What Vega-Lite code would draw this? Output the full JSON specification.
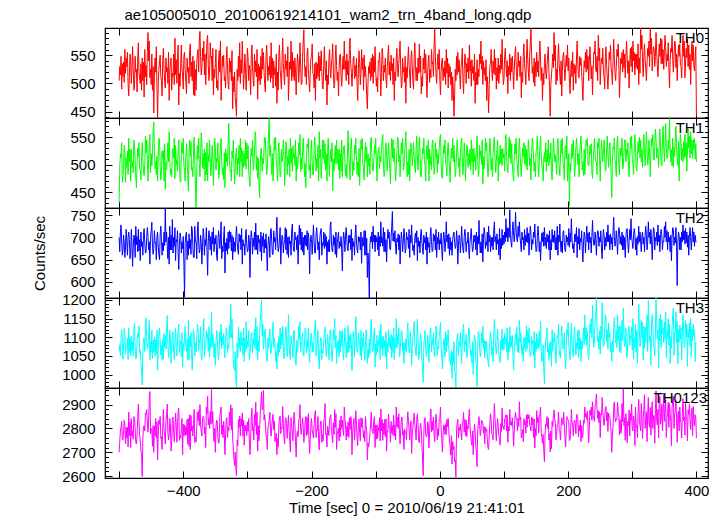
{
"$schema":"https://vega.github.io/schema/vega-lite/v6.json",
"padding":{"left":31,"top":7,"right":5,"bottom":0},
"title":{"text":"ae105005010_20100619214101_wam2_trn_4band_long.qdp","anchor":"start","dx":93,"fontSize":15,"fontWeight":"normal","font":"Liberation Sans","color":"#000","offset":2},
"config":{"font":"Liberation Sans","view":{"stroke":"#000","strokeWidth":1.2},"axis":{"labelFont":"Liberation Sans","labelFontSize":15,"labelColor":"#000","titleFont":"Liberation Sans","titleFontSize":15,"titleFontWeight":"normal","titleColor":"#000","tickColor":"#000","tickWidth":1,"domain":false,"grid":false,"labelFlush":false,"labelOverlap":false,"minExtent":0}},
"bounds":"flush",
"spacing":0,
"datasets":{"lc":[
{"t":-500,"a":505,"b":430,"c":700,"d":1062,"e":2700},
{"t":-499,"a":530,"b":495,"c":668,"d":1080,"e":2745},
{"t":-498,"a":515,"b":520,"c":712,"d":1050,"e":2790},
{"t":-497,"a":548,"b":512,"c":728,"d":1095,"e":2805},
{"t":-496,"a":490,"b":540,"c":690,"d":1120,"e":2830},
{"t":-495,"a":535,"b":468,"c":660,"d":1085,"e":2752},
{"t":-494,"a":512,"b":478,"c":671,"d":1041,"e":2752},
{"t":-493,"a":538,"b":500,"c":705,"d":1075,"e":2790},
{"t":-492,"a":502,"b":535,"c":685,"d":1125,"e":2835},
{"t":-491,"a":560,"b":520,"c":655,"d":1110,"e":2810},
{"t":-490,"a":518,"b":468,"c":680,"d":1055,"e":2735},
{"t":-489,"a":545,"b":512,"c":718,"d":1070,"e":2805},
{"t":-488,"a":530,"b":495,"c":690,"d":1072,"e":2760},
{"t":-487,"a":555,"b":525,"c":660,"d":1098,"e":2805},
{"t":-486,"a":498,"b":482,"c":700,"d":1040,"e":2722},
{"t":-485,"a":478,"b":548,"c":712,"d":1125,"e":2868},
{"t":-484,"a":512,"b":505,"c":695,"d":1060,"e":2770},
{"t":-483,"a":552,"b":528,"c":652,"d":1098,"e":2828},
{"t":-482,"a":540,"b":470,"c":662,"d":1050,"e":2720},
{"t":-481,"a":500,"b":528,"c":718,"d":1102,"e":2842},
{"t":-480,"a":525,"b":495,"c":688,"d":1065,"e":2768},
{"t":-479,"a":565,"b":505,"c":635,"d":1088,"e":2790},
{"t":-478,"a":528,"b":485,"c":678,"d":1050,"e":2755},
{"t":-477,"a":488,"b":545,"c":705,"d":1118,"e":2850},
{"t":-476,"a":495,"b":532,"c":700,"d":1138,"e":2845},
{"t":-475,"a":548,"b":510,"c":655,"d":1075,"e":2800},
{"t":-474,"a":520,"b":478,"c":725,"d":1042,"e":2740},
{"t":-473,"a":525,"b":458,"c":684,"d":1045,"e":2735},
{"t":-472,"a":485,"b":500,"c":702,"d":1092,"e":2768},
{"t":-471,"a":545,"b":530,"c":668,"d":1110,"e":2842},
{"t":-470,"a":572,"b":515,"c":718,"d":1100,"e":2902},
{"t":-469,"a":520,"b":540,"c":670,"d":1130,"e":2825},
{"t":-468,"a":508,"b":492,"c":695,"d":1058,"e":2772},
{"t":-467,"a":500,"b":490,"c":648,"d":1065,"e":2748},
{"t":-466,"a":535,"b":472,"c":712,"d":1035,"e":2705},
{"t":-465,"a":488,"b":515,"c":680,"d":1012,"e":2690},
{"t":-464,"a":545,"b":540,"c":690,"d":972,"e":2598},
{"t":-463,"a":505,"b":510,"c":660,"d":1070,"e":2760},
{"t":-462,"a":538,"b":488,"c":705,"d":1095,"e":2808},
{"t":-461,"a":476,"b":480,"c":720,"d":1098,"e":2812},
{"t":-460,"a":560,"b":498,"c":688,"d":1062,"e":2790},
{"t":-459,"a":512,"b":552,"c":665,"d":1132,"e":2865},
{"t":-458,"a":532,"b":522,"c":666,"d":1152,"e":2860},
{"t":-457,"a":498,"b":545,"c":700,"d":1090,"e":2880},
{"t":-456,"a":555,"b":505,"c":722,"d":1068,"e":2825},
{"t":-455,"a":590,"b":470,"c":702,"d":1075,"e":2785},
{"t":-454,"a":540,"b":512,"c":672,"d":1108,"e":2832},
{"t":-453,"a":575,"b":535,"c":690,"d":1145,"e":2918},
{"t":-452,"a":510,"b":555,"c":640,"d":1040,"e":2955},
{"t":-451,"a":525,"b":485,"c":698,"d":1085,"e":2778},
{"t":-450,"a":498,"b":520,"c":715,"d":1060,"e":2800},
{"t":-449,"a":552,"b":498,"c":734,"d":1118,"e":2790},
{"t":-448,"a":488,"b":520,"c":680,"d":1042,"e":2725},
{"t":-447,"a":530,"b":560,"c":662,"d":1092,"e":2812},
{"t":-446,"a":448,"b":578,"c":675,"d":1060,"e":2700},
{"t":-445,"a":512,"b":530,"c":715,"d":1100,"e":2810},
{"t":-444,"a":545,"b":492,"c":688,"d":1048,"e":2770},
{"t":-443,"a":520,"b":505,"c":690,"d":1093,"e":2842},
{"t":-442,"a":565,"b":482,"c":650,"d":1055,"e":2760},
{"t":-441,"a":492,"b":515,"c":702,"d":1120,"e":2828},
{"t":-440,"a":440,"b":470,"c":712,"d":1012,"e":2668},
{"t":-439,"a":500,"b":515,"c":678,"d":1072,"e":2775},
{"t":-438,"a":525,"b":548,"c":660,"d":1105,"e":2835},
{"t":-437,"a":538,"b":545,"c":650,"d":1125,"e":2818},
{"t":-436,"a":550,"b":498,"c":705,"d":1090,"e":2850},
{"t":-435,"a":512,"b":472,"c":725,"d":1052,"e":2758},
{"t":-434,"a":505,"b":488,"c":698,"d":1078,"e":2765},
{"t":-433,"a":478,"b":525,"c":660,"d":1038,"e":2712},
{"t":-432,"a":540,"b":510,"c":688,"d":1095,"e":2805},
{"t":-431,"a":562,"b":526,"c":670,"d":1042,"e":2880},
{"t":-430,"a":525,"b":470,"c":712,"d":1110,"e":2795},
{"t":-429,"a":502,"b":538,"c":682,"d":1072,"e":2770},
{"t":-428,"a":492,"b":455,"c":765,"d":1105,"e":2735},
{"t":-427,"a":545,"b":505,"c":690,"d":1068,"e":2828},
{"t":-426,"a":520,"b":490,"c":712,"d":1125,"e":2858},
{"t":-425,"a":528,"b":512,"c":682,"d":1158,"e":2902},
{"t":-424,"a":500,"b":540,"c":652,"d":1080,"e":2785},
{"t":-423,"a":555,"b":505,"c":700,"d":1045,"e":2752},
{"t":-422,"a":470,"b":560,"c":640,"d":1068,"e":2772},
{"t":-421,"a":522,"b":505,"c":725,"d":1120,"e":2842},
{"t":-420,"a":535,"b":482,"c":672,"d":1090,"e":2810},
{"t":-419,"a":545,"b":492,"c":705,"d":1030,"e":2705},
{"t":-418,"a":488,"b":478,"c":672,"d":1078,"e":2750},
{"t":-417,"a":518,"b":525,"c":740,"d":1110,"e":2840},
{"t":-416,"a":512,"b":530,"c":665,"d":1115,"e":2848},
{"t":-415,"a":552,"b":512,"c":700,"d":1062,"e":2790},
{"t":-414,"a":498,"b":548,"c":680,"d":1040,"e":2745},
{"t":-413,"a":580,"b":475,"c":722,"d":1082,"e":2798},
{"t":-412,"a":515,"b":535,"c":648,"d":1125,"e":2865},
{"t":-411,"a":542,"b":500,"c":695,"d":1070,"e":2812},
{"t":-410,"a":500,"b":508,"c":690,"d":1050,"e":2742},
{"t":-409,"a":538,"b":488,"c":715,"d":1092,"e":2810},
{"t":-408,"a":568,"b":528,"c":665,"d":1118,"e":2872},
{"t":-407,"a":462,"b":545,"c":628,"d":1135,"e":2885},
{"t":-406,"a":518,"b":500,"c":682,"d":1060,"e":2750},
{"t":-405,"a":495,"b":472,"c":710,"d":1085,"e":2768},
{"t":-404,"a":535,"b":468,"c":700,"d":1090,"e":2760},
{"t":-403,"a":568,"b":522,"c":665,"d":1048,"e":2795},
{"t":-402,"a":525,"b":540,"c":690,"d":1112,"e":2842},
{"t":-401,"a":515,"b":520,"c":675,"d":1020,"e":2690},
{"t":-400,"a":490,"b":548,"c":702,"d":1085,"e":2818},
{"t":-399,"a":548,"b":498,"c":640,"d":1065,"e":2770},
{"t":-398,"a":555,"b":490,"c":566,"d":1100,"e":2815},
{"t":-397,"a":525,"b":470,"c":688,"d":1130,"e":2770},
{"t":-396,"a":502,"b":515,"c":705,"d":1078,"e":2808},
{"t":-395,"a":482,"b":538,"c":712,"d":1062,"e":2775},
{"t":-394,"a":545,"b":505,"c":650,"d":1095,"e":2838},
{"t":-393,"a":520,"b":480,"c":692,"d":1040,"e":2735},
{"t":-392,"a":528,"b":452,"c":660,"d":1145,"e":2842},
{"t":-391,"a":500,"b":525,"c":708,"d":1040,"e":2725},
{"t":-390,"a":560,"b":545,"c":675,"d":1102,"e":2858},
{"t":-389,"a":570,"b":515,"c":695,"d":1074,"e":2712},
{"t":-388,"a":512,"b":542,"c":662,"d":1112,"e":2855},
{"t":-387,"a":538,"b":490,"c":725,"d":1055,"e":2790},
{"t":-386,"a":505,"b":495,"c":718,"d":1012,"e":2810},
{"t":-385,"a":548,"b":478,"c":680,"d":1078,"e":2768},
{"t":-384,"a":480,"b":528,"c":655,"d":1120,"e":2822},
{"t":-383,"a":540,"b":550,"c":655,"d":1108,"e":2880},
{"t":-382,"a":478,"b":505,"c":725,"d":1050,"e":2740},
{"t":-381,"a":525,"b":462,"c":690,"d":1085,"e":2765},
{"t":-380,"a":488,"b":421,"c":690,"d":1060,"e":2745},
{"t":-379,"a":535,"b":490,"c":652,"d":1098,"e":2798},
{"t":-378,"a":552,"b":535,"c":712,"d":1135,"e":2868},
{"t":-377,"a":560,"b":510,"c":735,"d":1122,"e":2832},
{"t":-376,"a":520,"b":548,"c":690,"d":1065,"e":2875},
{"t":-375,"a":575,"b":502,"c":665,"d":1092,"e":2812},
{"t":-374,"a":592,"b":478,"c":672,"d":1085,"e":2900},
{"t":-373,"a":548,"b":515,"c":705,"d":1128,"e":2815},
{"t":-372,"a":515,"b":558,"c":688,"d":1048,"e":2790},
{"t":-371,"a":525,"b":540,"c":640,"d":1038,"e":2768},
{"t":-370,"a":562,"b":495,"c":678,"d":1085,"e":2842},
{"t":-369,"a":540,"b":520,"c":720,"d":1112,"e":2850},
{"t":-368,"a":575,"b":492,"c":708,"d":1150,"e":2850},
{"t":-367,"a":515,"b":528,"c":660,"d":1048,"e":2778},
{"t":-366,"a":552,"b":470,"c":695,"d":1075,"e":2805},
{"t":-365,"a":498,"b":522,"c":682,"d":1072,"e":2720},
{"t":-364,"a":540,"b":482,"c":722,"d":1118,"e":2890},
{"t":-363,"a":578,"b":540,"c":670,"d":1095,"e":2862},
{"t":-362,"a":585,"b":470,"c":615,"d":1110,"e":2935},
{"t":-361,"a":532,"b":518,"c":690,"d":1062,"e":2815},
{"t":-360,"a":505,"b":505,"c":715,"d":1128,"e":2842},
{"t":-359,"a":520,"b":545,"c":700,"d":1048,"e":2800},
{"t":-358,"a":572,"b":505,"c":672,"d":1100,"e":2872},
{"t":-357,"a":545,"b":480,"c":702,"d":1070,"e":2818},
{"t":-356,"a":548,"b":500,"c":660,"d":1168,"e":2965},
{"t":-355,"a":505,"b":535,"c":712,"d":1075,"e":2822},
{"t":-354,"a":562,"b":518,"c":685,"d":1110,"e":2870},
{"t":-353,"a":480,"b":462,"c":722,"d":1090,"e":2780},
{"t":-352,"a":525,"b":512,"c":668,"d":1045,"e":2745},
{"t":-351,"a":510,"b":548,"c":698,"d":1082,"e":2800},
{"t":-350,"a":535,"b":532,"c":685,"d":1025,"e":2700},
{"t":-349,"a":560,"b":490,"c":705,"d":1090,"e":2805},
{"t":-348,"a":492,"b":512,"c":660,"d":1118,"e":2835},
{"t":-347,"a":505,"b":505,"c":648,"d":1102,"e":2828},
{"t":-346,"a":488,"b":540,"c":690,"d":1060,"e":2762},
{"t":-345,"a":538,"b":475,"c":715,"d":1040,"e":2738},
{"t":-344,"a":558,"b":480,"c":700,"d":1064,"e":2745},
{"t":-343,"a":520,"b":512,"c":675,"d":1115,"e":2850},
{"t":-342,"a":575,"b":535,"c":698,"d":1088,"e":2868},
{"t":-341,"a":470,"b":548,"c":735,"d":1135,"e":2890},
{"t":-340,"a":512,"b":505,"c":652,"d":1070,"e":2775},
{"t":-339,"a":548,"b":482,"c":680,"d":1102,"e":2815},
{"t":-338,"a":530,"b":495,"c":668,"d":1080,"e":2762},
{"t":-337,"a":550,"b":472,"c":702,"d":1110,"e":2830},
{"t":-336,"a":505,"b":522,"c":725,"d":1058,"e":2775},
{"t":-335,"a":512,"b":458,"c":620,"d":1045,"e":2690},
{"t":-334,"a":492,"b":528,"c":688,"d":1085,"e":2778},
{"t":-333,"a":540,"b":505,"c":670,"d":1125,"e":2842},
{"t":-332,"a":565,"b":520,"c":698,"d":1118,"e":2845},
{"t":-331,"a":528,"b":498,"c":662,"d":1058,"e":2762},
{"t":-330,"a":498,"b":545,"c":712,"d":1080,"e":2805},
{"t":-329,"a":490,"b":575,"c":675,"d":1070,"e":2790},
{"t":-328,"a":545,"b":515,"c":715,"d":1132,"e":2868},
{"t":-327,"a":520,"b":488,"c":690,"d":1098,"e":2812},
{"t":-326,"a":540,"b":490,"c":712,"d":1188,"e":2900},
{"t":-325,"a":505,"b":470,"c":670,"d":1098,"e":2795},
{"t":-324,"a":558,"b":525,"c":705,"d":1150,"e":2885},
{"t":-323,"a":455,"b":512,"c":650,"d":1092,"e":2760},
{"t":-322,"a":512,"b":545,"c":700,"d":1040,"e":2718},
{"t":-321,"a":485,"b":498,"c":668,"d":1020,"e":2672},
{"t":-320,"a":520,"b":465,"c":690,"d":1010,"e":2645},
{"t":-319,"a":475,"b":498,"c":668,"d":1062,"e":2700},
{"t":-318,"a":462,"b":520,"c":702,"d":985,"e":2632},
{"t":-317,"a":442,"b":530,"c":725,"d":966,"e":2602},
{"t":-316,"a":525,"b":482,"c":690,"d":1085,"e":2752},
{"t":-315,"a":505,"b":512,"c":672,"d":1045,"e":2728},
{"t":-314,"a":548,"b":502,"c":662,"d":1128,"e":2838},
{"t":-313,"a":512,"b":535,"c":708,"d":1072,"e":2805},
{"t":-312,"a":572,"b":478,"c":690,"d":1100,"e":2852},
{"t":-311,"a":500,"b":548,"c":705,"d":1060,"e":2770},
{"t":-310,"a":542,"b":505,"c":672,"d":1115,"e":2842},
{"t":-309,"a":518,"b":530,"c":720,"d":1078,"e":2810},
{"t":-308,"a":575,"b":478,"c":640,"d":1098,"e":2865},
{"t":-307,"a":530,"b":525,"c":695,"d":1052,"e":2768},
{"t":-306,"a":490,"b":495,"c":682,"d":1125,"e":2835},
{"t":-305,"a":515,"b":520,"c":685,"d":1035,"e":2730},
{"t":-304,"a":552,"b":498,"c":660,"d":1098,"e":2815},
{"t":-303,"a":528,"b":545,"c":705,"d":1062,"e":2790},
{"t":-302,"a":488,"b":492,"c":718,"d":1142,"e":2812},
{"t":-301,"a":520,"b":540,"c":682,"d":1068,"e":2770},
{"t":-300,"a":562,"b":510,"c":668,"d":1090,"e":2828},
{"t":-299,"a":545,"b":535,"c":672,"d":1075,"e":2788},
{"t":-298,"a":505,"b":488,"c":705,"d":1118,"e":2842},
{"t":-297,"a":532,"b":472,"c":690,"d":1040,"e":2745},
{"t":-296,"a":525,"b":460,"c":610,"d":1050,"e":2690},
{"t":-295,"a":480,"b":512,"c":692,"d":1080,"e":2752},
{"t":-294,"a":545,"b":530,"c":715,"d":1112,"e":2845},
{"t":-293,"a":568,"b":515,"c":700,"d":1112,"e":2885},
{"t":-292,"a":530,"b":545,"c":662,"d":1058,"e":2790},
{"t":-291,"a":505,"b":490,"c":698,"d":1095,"e":2808},
{"t":-290,"a":495,"b":498,"c":680,"d":1080,"e":2752},
{"t":-289,"a":552,"b":520,"c":712,"d":1122,"e":2860},
{"t":-288,"a":520,"b":560,"c":672,"d":1070,"e":2812},
{"t":-287,"a":540,"b":552,"c":732,"d":1152,"e":2910},
{"t":-286,"a":512,"b":490,"c":672,"d":1065,"e":2775},
{"t":-285,"a":560,"b":515,"c":705,"d":1128,"e":2868},
{"t":-284,"a":472,"b":475,"c":662,"d":1040,"e":2705},
{"t":-283,"a":535,"b":512,"c":705,"d":1092,"e":2812},
{"t":-282,"a":505,"b":465,"c":688,"d":1060,"e":2748},
{"t":-281,"a":530,"b":440,"c":695,"d":1104,"e":2795},
{"t":-280,"a":498,"b":505,"c":668,"d":1140,"e":2862},
{"t":-279,"a":548,"b":528,"c":712,"d":1165,"e":2902},
{"t":-278,"a":508,"b":530,"c":648,"d":1200,"e":2955},
{"t":-277,"a":562,"b":488,"c":702,"d":1102,"e":2878},
{"t":-276,"a":525,"b":512,"c":680,"d":1135,"e":2880},
{"t":-275,"a":555,"b":502,"c":710,"d":1068,"e":2960},
{"t":-274,"a":520,"b":532,"c":665,"d":1090,"e":2835},
{"t":-273,"a":498,"b":550,"c":695,"d":1118,"e":2858},
{"t":-272,"a":485,"b":548,"c":676,"d":1122,"e":2820},
{"t":-271,"a":545,"b":505,"c":708,"d":1062,"e":2775},
{"t":-270,"a":568,"b":482,"c":670,"d":1045,"e":2762},
{"t":-269,"a":538,"b":492,"c":625,"d":1035,"e":2712},
{"t":-268,"a":505,"b":528,"c":682,"d":1098,"e":2802},
{"t":-267,"a":530,"b":560,"c":702,"d":1072,"e":2815},
{"t":-266,"a":515,"b":584,"c":690,"d":1090,"e":2835},
{"t":-265,"a":548,"b":515,"c":655,"d":1122,"e":2868},
{"t":-264,"a":502,"b":535,"c":718,"d":1055,"e":2792},
{"t":-263,"a":572,"b":508,"c":720,"d":1058,"e":2768},
{"t":-262,"a":510,"b":482,"c":688,"d":1088,"e":2810},
{"t":-261,"a":545,"b":520,"c":662,"d":1110,"e":2840},
{"t":-260,"a":492,"b":470,"c":662,"d":1140,"e":2860},
{"t":-259,"a":540,"b":515,"c":715,"d":1072,"e":2795},
{"t":-258,"a":515,"b":548,"c":690,"d":1098,"e":2832},
{"t":-257,"a":528,"b":525,"c":700,"d":1078,"e":2745},
{"t":-256,"a":495,"b":550,"c":672,"d":1035,"e":2770},
{"t":-255,"a":552,"b":500,"c":712,"d":1062,"e":2780},
{"t":-254,"a":465,"b":495,"c":745,"d":1015,"e":2690},
{"t":-253,"a":520,"b":470,"c":690,"d":1085,"e":2758},
{"t":-252,"a":488,"b":522,"c":668,"d":1050,"e":2722},
{"t":-251,"a":548,"b":540,"c":675,"d":1102,"e":2812},
{"t":-250,"a":568,"b":508,"c":700,"d":1060,"e":2845},
{"t":-249,"a":525,"b":478,"c":722,"d":1125,"e":2852},
{"t":-248,"a":510,"b":478,"c":640,"d":1068,"e":2778},
{"t":-247,"a":490,"b":528,"c":685,"d":1112,"e":2805},
{"t":-246,"a":542,"b":505,"c":705,"d":1080,"e":2800},
{"t":-245,"a":580,"b":512,"c":702,"d":1130,"e":2892},
{"t":-244,"a":535,"b":545,"c":665,"d":1075,"e":2820},
{"t":-243,"a":512,"b":520,"c":688,"d":1042,"e":2765},
{"t":-242,"a":498,"b":462,"c":688,"d":1052,"e":2735},
{"t":-241,"a":552,"b":505,"c":722,"d":1100,"e":2838},
{"t":-240,"a":525,"b":542,"c":672,"d":1128,"e":2845},
{"t":-239,"a":540,"b":535,"c":718,"d":1095,"e":2820},
{"t":-238,"a":512,"b":482,"c":662,"d":1048,"e":2758},
{"t":-237,"a":565,"b":515,"c":700,"d":1075,"e":2812},
{"t":-236,"a":470,"b":500,"c":655,"d":1160,"e":2855},
{"t":-235,"a":508,"b":528,"c":702,"d":1088,"e":2792},
{"t":-234,"a":538,"b":478,"c":685,"d":1055,"e":2752},
{"t":-233,"a":525,"b":548,"c":692,"d":1040,"e":2702},
{"t":-232,"a":575,"b":502,"c":660,"d":1105,"e":2845},
{"t":-231,"a":505,"b":530,"c":715,"d":1082,"e":2808},
{"t":-230,"a":555,"b":488,"c":730,"d":1080,"e":2790},
{"t":-229,"a":512,"b":535,"c":690,"d":1045,"e":2748},
{"t":-228,"a":540,"b":512,"c":670,"d":1118,"e":2838},
{"t":-227,"a":505,"b":520,"c":668,"d":1118,"e":2868},
{"t":-226,"a":545,"b":498,"c":712,"d":1078,"e":2815},
{"t":-225,"a":520,"b":545,"c":695,"d":1030,"e":2745},
{"t":-224,"a":480,"b":470,"c":700,"d":1025,"e":2680},
{"t":-223,"a":522,"b":515,"c":672,"d":1092,"e":2772},
{"t":-222,"a":552,"b":492,"c":705,"d":1060,"e":2790},
{"t":-221,"a":538,"b":505,"c":640,"d":1075,"e":2765},
{"t":-220,"a":502,"b":540,"c":695,"d":1130,"e":2835},
{"t":-219,"a":528,"b":518,"c":728,"d":1095,"e":2842},
{"t":-218,"a":572,"b":555,"c":684,"d":1142,"e":2900},
{"t":-217,"a":528,"b":488,"c":720,"d":1060,"e":2792},
{"t":-216,"a":498,"b":512,"c":672,"d":1085,"e":2775},
{"t":-215,"a":500,"b":492,"c":712,"d":1088,"e":2808},
{"t":-214,"a":548,"b":525,"c":668,"d":1112,"e":2845},
{"t":-213,"a":575,"b":548,"c":700,"d":1052,"e":2805},
{"t":-212,"a":595,"b":518,"c":660,"d":1050,"e":2742},
{"t":-211,"a":535,"b":478,"c":705,"d":1085,"e":2778},
{"t":-210,"a":512,"b":502,"c":682,"d":1125,"e":2830},
{"t":-209,"a":530,"b":458,"c":705,"d":1120,"e":2850},
{"t":-208,"a":498,"b":512,"c":680,"d":1058,"e":2770},
{"t":-207,"a":552,"b":538,"c":715,"d":1092,"e":2848},
{"t":-206,"a":562,"b":530,"c":672,"d":1070,"e":2775},
{"t":-205,"a":525,"b":548,"c":710,"d":1125,"e":2862},
{"t":-204,"a":505,"b":490,"c":690,"d":1060,"e":2752},
{"t":-203,"a":485,"b":500,"c":618,"d":1032,"e":2695},
{"t":-202,"a":520,"b":475,"c":688,"d":1072,"e":2752},
{"t":-201,"a":545,"b":522,"c":705,"d":1110,"e":2822},
{"t":-200,"a":548,"b":545,"c":695,"d":1110,"e":2842},
{"t":-199,"a":570,"b":505,"c":662,"d":1060,"e":2790},
{"t":-198,"a":518,"b":482,"c":698,"d":1085,"e":2778},
{"t":-197,"a":515,"b":482,"c":728,"d":1062,"e":2760},
{"t":-196,"a":492,"b":528,"c":690,"d":1105,"e":2820},
{"t":-195,"a":535,"b":550,"c":665,"d":1128,"e":2858},
{"t":-194,"a":470,"b":520,"c":665,"d":1145,"e":2875},
{"t":-193,"a":538,"b":488,"c":705,"d":1050,"e":2762},
{"t":-192,"a":508,"b":512,"c":722,"d":1075,"e":2795},
{"t":-191,"a":535,"b":495,"c":700,"d":1082,"e":2792},
{"t":-190,"a":512,"b":535,"c":672,"d":1118,"e":2850},
{"t":-189,"a":555,"b":470,"c":690,"d":1042,"e":2752},
{"t":-188,"a":505,"b":560,"c":650,"d":1015,"e":2710},
{"t":-187,"a":548,"b":512,"c":700,"d":1070,"e":2788},
{"t":-186,"a":522,"b":528,"c":715,"d":1098,"e":2830},
{"t":-185,"a":558,"b":475,"c":720,"d":1098,"e":2830},
{"t":-184,"a":520,"b":500,"c":660,"d":1040,"e":2742},
{"t":-183,"a":492,"b":545,"c":688,"d":1065,"e":2775},
{"t":-182,"a":490,"b":512,"c":682,"d":1058,"e":2748},
{"t":-181,"a":532,"b":545,"c":712,"d":1092,"e":2830},
{"t":-180,"a":565,"b":502,"c":675,"d":1112,"e":2842},
{"t":-179,"a":528,"b":538,"c":708,"d":1128,"e":2905},
{"t":-178,"a":505,"b":490,"c":680,"d":1070,"e":2775},
{"t":-177,"a":540,"b":520,"c":702,"d":1048,"e":2780},
{"t":-176,"a":462,"b":470,"c":640,"d":1075,"e":2722},
{"t":-175,"a":515,"b":520,"c":690,"d":1108,"e":2810},
{"t":-174,"a":498,"b":548,"c":668,"d":1085,"e":2795},
{"t":-173,"a":542,"b":505,"c":695,"d":1040,"e":2770},
{"t":-172,"a":560,"b":478,"c":668,"d":1085,"e":2835},
{"t":-171,"a":525,"b":512,"c":725,"d":1120,"e":2850},
{"t":-170,"a":510,"b":528,"c":735,"d":1105,"e":2858},
{"t":-169,"a":532,"b":505,"c":690,"d":1062,"e":2792},
{"t":-168,"a":548,"b":540,"c":670,"d":1035,"e":2768},
{"t":-167,"a":570,"b":452,"c":668,"d":1068,"e":2740},
{"t":-166,"a":518,"b":510,"c":705,"d":1120,"e":2822},
{"t":-165,"a":492,"b":488,"c":682,"d":1092,"e":2775},
{"t":-164,"a":498,"b":515,"c":700,"d":1150,"e":2880},
{"t":-163,"a":545,"b":535,"c":662,"d":1072,"e":2805},
{"t":-162,"a":568,"b":502,"c":712,"d":1105,"e":2862},
{"t":-161,"a":532,"b":545,"c":655,"d":1030,"e":2712},
{"t":-160,"a":505,"b":502,"c":688,"d":1088,"e":2775},
{"t":-159,"a":520,"b":528,"c":700,"d":1060,"e":2790},
{"t":-158,"a":478,"b":490,"c":712,"d":1092,"e":2802},
{"t":-157,"a":528,"b":528,"c":675,"d":1048,"e":2748},
{"t":-156,"a":550,"b":475,"c":690,"d":1118,"e":2835},
{"t":-155,"a":552,"b":520,"c":680,"d":1060,"e":2765},
{"t":-154,"a":512,"b":488,"c":702,"d":1115,"e":2852},
{"t":-153,"a":495,"b":545,"c":668,"d":1078,"e":2800},
{"t":-152,"a":520,"b":478,"c":625,"d":1118,"e":2835},
{"t":-151,"a":548,"b":515,"c":688,"d":1065,"e":2790},
{"t":-150,"a":525,"b":532,"c":712,"d":1040,"e":2770},
{"t":-149,"a":575,"b":535,"c":698,"d":1080,"e":2890},
{"t":-148,"a":525,"b":505,"c":668,"d":1125,"e":2845},
{"t":-147,"a":540,"b":480,"c":705,"d":1095,"e":2815},
{"t":-146,"a":505,"b":500,"c":722,"d":1045,"e":2752},
{"t":-145,"a":552,"b":475,"c":695,"d":1085,"e":2808},
{"t":-144,"a":515,"b":525,"c":672,"d":1058,"e":2768},
{"t":-143,"a":540,"b":562,"c":670,"d":1132,"e":2828},
{"t":-142,"a":498,"b":515,"c":705,"d":1060,"e":2762},
{"t":-141,"a":562,"b":498,"c":688,"d":1105,"e":2845},
{"t":-140,"a":580,"b":472,"c":705,"d":1070,"e":2795},
{"t":-139,"a":535,"b":525,"c":672,"d":1110,"e":2850},
{"t":-138,"a":520,"b":548,"c":718,"d":1080,"e":2838},
{"t":-137,"a":495,"b":515,"c":648,"d":1010,"e":2690},
{"t":-136,"a":520,"b":480,"c":698,"d":1072,"e":2778},
{"t":-135,"a":545,"b":505,"c":680,"d":1115,"e":2822},
{"t":-134,"a":548,"b":490,"c":690,"d":1098,"e":2842},
{"t":-133,"a":508,"b":535,"c":660,"d":1048,"e":2752},
{"t":-132,"a":532,"b":520,"c":705,"d":1090,"e":2808},
{"t":-131,"a":512,"b":548,"c":728,"d":1155,"e":2875},
{"t":-130,"a":545,"b":508,"c":690,"d":1090,"e":2815},
{"t":-129,"a":498,"b":482,"c":672,"d":1062,"e":2760},
{"t":-128,"a":470,"b":505,"c":665,"d":1060,"e":2728},
{"t":-127,"a":525,"b":478,"c":702,"d":1112,"e":2808},
{"t":-126,"a":558,"b":530,"c":690,"d":1085,"e":2840},
{"t":-125,"a":535,"b":462,"c":700,"d":1088,"e":2782},
{"t":-124,"a":498,"b":512,"c":672,"d":1050,"e":2748},
{"t":-123,"a":518,"b":545,"c":712,"d":1118,"e":2845},
{"t":-122,"a":560,"b":528,"c":642,"d":1040,"e":2805},
{"t":-121,"a":525,"b":548,"c":700,"d":1098,"e":2842},
{"t":-120,"a":545,"b":500,"c":680,"d":1072,"e":2800},
{"t":-119,"a":488,"b":495,"c":685,"d":1112,"e":2760},
{"t":-118,"a":550,"b":472,"c":715,"d":1065,"e":2790},
{"t":-117,"a":512,"b":518,"c":660,"d":1038,"e":2745},
{"t":-116,"a":530,"b":540,"c":715,"d":1072,"e":2850},
{"t":-115,"a":508,"b":505,"c":660,"d":1120,"e":2812},
{"t":-114,"a":478,"b":532,"c":698,"d":1090,"e":2790},
{"t":-113,"a":455,"b":478,"c":610,"d":1030,"e":2668},
{"t":-112,"a":502,"b":520,"c":665,"d":1068,"e":2740},
{"t":-111,"a":530,"b":498,"c":640,"d":1045,"e":2722},
{"t":-110,"a":518,"b":512,"c":564,"d":1095,"e":2745},
{"t":-109,"a":538,"b":482,"c":682,"d":1055,"e":2780},
{"t":-108,"a":505,"b":540,"c":702,"d":1108,"e":2815},
{"t":-107,"a":545,"b":550,"c":690,"d":1148,"e":2868},
{"t":-106,"a":512,"b":520,"c":712,"d":1085,"e":2802},
{"t":-105,"a":552,"b":490,"c":675,"d":1062,"e":2788},
{"t":-104,"a":500,"b":488,"c":725,"d":1062,"e":2778},
{"t":-103,"a":548,"b":505,"c":690,"d":1108,"e":2830},
{"t":-102,"a":520,"b":535,"c":705,"d":1125,"e":2850},
{"t":-101,"a":565,"b":520,"c":668,"d":1020,"e":2720},
{"t":-100,"a":522,"b":548,"c":705,"d":1082,"e":2815},
{"t":-99,"a":495,"b":505,"c":690,"d":1052,"e":2755},
{"t":-98,"a":510,"b":470,"c":700,"d":1105,"e":2815},
{"t":-97,"a":485,"b":512,"c":672,"d":1060,"e":2758},
{"t":-96,"a":540,"b":528,"c":712,"d":1092,"e":2805},
{"t":-95,"a":538,"b":532,"c":658,"d":1078,"e":2792},
{"t":-94,"a":555,"b":492,"c":702,"d":1118,"e":2845},
{"t":-93,"a":518,"b":515,"c":680,"d":1040,"e":2748},
{"t":-92,"a":478,"b":505,"c":735,"d":1135,"e":2882},
{"t":-91,"a":520,"b":528,"c":688,"d":1070,"e":2790},
{"t":-90,"a":562,"b":545,"c":700,"d":1102,"e":2838},
{"t":-89,"a":550,"b":555,"c":680,"d":1050,"e":2750},
{"t":-88,"a":505,"b":500,"c":722,"d":1102,"e":2822},
{"t":-87,"a":532,"b":478,"c":668,"d":1072,"e":2775},
{"t":-86,"a":520,"b":482,"c":712,"d":1092,"e":2838},
{"t":-85,"a":545,"b":525,"c":668,"d":1048,"e":2765},
{"t":-84,"a":508,"b":540,"c":695,"d":1115,"e":2840},
{"t":-83,"a":492,"b":515,"c":645,"d":1015,"e":2705},
{"t":-82,"a":528,"b":488,"c":692,"d":1085,"e":2790},
{"t":-81,"a":550,"b":512,"c":718,"d":1060,"e":2785},
{"t":-80,"a":568,"b":540,"c":698,"d":1120,"e":2860},
{"t":-79,"a":515,"b":512,"c":712,"d":1075,"e":2805},
{"t":-78,"a":538,"b":492,"c":675,"d":1098,"e":2808},
{"t":-77,"a":505,"b":465,"c":672,"d":1068,"e":2742},
{"t":-76,"a":550,"b":522,"c":700,"d":1108,"e":2830},
{"t":-75,"a":522,"b":548,"c":725,"d":1045,"e":2780},
{"t":-74,"a":535,"b":512,"c":758,"d":1102,"e":2812},
{"t":-73,"a":498,"b":545,"c":692,"d":1058,"e":2772},
{"t":-72,"a":545,"b":505,"c":710,"d":1125,"e":2855},
{"t":-71,"a":470,"b":530,"c":690,"d":1040,"e":2768},
{"t":-70,"a":520,"b":498,"c":715,"d":1098,"e":2815},
{"t":-69,"a":505,"b":470,"c":678,"d":1070,"e":2752},
{"t":-68,"a":545,"b":492,"c":662,"d":1150,"e":2890},
{"t":-67,"a":562,"b":525,"c":698,"d":1072,"e":2808},
{"t":-66,"a":528,"b":550,"c":690,"d":1105,"e":2848},
{"t":-65,"a":512,"b":548,"c":708,"d":1082,"e":2800},
{"t":-64,"a":535,"b":505,"c":672,"d":1125,"e":2862},
{"t":-63,"a":555,"b":518,"c":705,"d":1048,"e":2790},
{"t":-62,"a":575,"b":478,"c":640,"d":1058,"e":2735},
{"t":-61,"a":525,"b":512,"c":685,"d":1090,"e":2795},
{"t":-60,"a":492,"b":540,"c":712,"d":1118,"e":2835},
{"t":-59,"a":498,"b":520,"c":695,"d":1115,"e":2848},
{"t":-58,"a":545,"b":548,"c":668,"d":1062,"e":2772},
{"t":-57,"a":520,"b":490,"c":690,"d":1085,"e":2790},
{"t":-56,"a":528,"b":495,"c":720,"d":1030,"e":2712},
{"t":-55,"a":502,"b":520,"c":700,"d":1085,"e":2798},
{"t":-54,"a":548,"b":535,"c":665,"d":1065,"e":2785},
{"t":-53,"a":465,"b":560,"c":672,"d":1095,"e":2785},
{"t":-52,"a":528,"b":512,"c":712,"d":1060,"e":2752},
{"t":-51,"a":510,"b":478,"c":695,"d":1112,"e":2822},
{"t":-50,"a":540,"b":505,"c":700,"d":1138,"e":2870},
{"t":-49,"a":565,"b":482,"c":675,"d":1092,"e":2830},
{"t":-48,"a":532,"b":528,"c":718,"d":1058,"e":2800},
{"t":-47,"a":515,"b":470,"c":655,"d":1062,"e":2752},
{"t":-46,"a":492,"b":518,"c":705,"d":1115,"e":2810},
{"t":-45,"a":545,"b":540,"c":688,"d":1085,"e":2832},
{"t":-44,"a":558,"b":528,"c":728,"d":1025,"e":2695},
{"t":-43,"a":530,"b":498,"c":690,"d":1068,"e":2778},
{"t":-42,"a":505,"b":515,"c":670,"d":1102,"e":2805},
{"t":-41,"a":490,"b":540,"c":682,"d":1110,"e":2830},
{"t":-40,"a":548,"b":515,"c":660,"d":1142,"e":2865},
{"t":-39,"a":572,"b":492,"c":700,"d":1075,"e":2818},
{"t":-38,"a":532,"b":485,"c":710,"d":1075,"e":2790},
{"t":-37,"a":505,"b":530,"c":688,"d":1050,"e":2752},
{"t":-36,"a":528,"b":552,"c":715,"d":1092,"e":2840},
{"t":-35,"a":505,"b":512,"c":648,"d":1148,"e":2862},
{"t":-34,"a":545,"b":490,"c":700,"d":1095,"e":2818},
{"t":-33,"a":518,"b":520,"c":680,"d":1040,"e":2748},
{"t":-32,"a":570,"b":550,"c":692,"d":1050,"e":2740},
{"t":-31,"a":520,"b":525,"c":665,"d":1088,"e":2800},
{"t":-30,"a":548,"b":478,"c":705,"d":1110,"e":2822},
{"t":-29,"a":482,"b":478,"c":718,"d":1092,"e":2800},
{"t":-28,"a":512,"b":505,"c":690,"d":1042,"e":2728},
{"t":-27,"a":495,"b":530,"c":672,"d":1015,"e":2680},
{"t":-26,"a":545,"b":520,"c":662,"d":980,"e":2602},
{"t":-25,"a":525,"b":548,"c":705,"d":1075,"e":2780},
{"t":-24,"a":560,"b":505,"c":688,"d":1100,"e":2842},
{"t":-23,"a":518,"b":498,"c":700,"d":1118,"e":2845},
{"t":-22,"a":552,"b":470,"c":672,"d":1070,"e":2772},
{"t":-21,"a":505,"b":525,"c":712,"d":1048,"e":2765},
{"t":-20,"a":475,"b":535,"c":640,"d":1065,"e":2770},
{"t":-19,"a":520,"b":510,"c":700,"d":1105,"e":2828},
{"t":-18,"a":540,"b":545,"c":678,"d":1080,"e":2818},
{"t":-17,"a":550,"b":470,"c":688,"d":1032,"e":2718},
{"t":-16,"a":502,"b":528,"c":665,"d":1082,"e":2790},
{"t":-15,"a":525,"b":500,"c":705,"d":1122,"e":2835},
{"t":-14,"a":510,"b":515,"c":722,"d":1125,"e":2882},
{"t":-13,"a":560,"b":490,"c":690,"d":1060,"e":2785},
{"t":-12,"a":535,"b":538,"c":668,"d":1095,"e":2830},
{"t":-11,"a":538,"b":545,"c":670,"d":1080,"e":2792},
{"t":-10,"a":512,"b":515,"c":708,"d":1112,"e":2848},
{"t":-9,"a":568,"b":482,"c":692,"d":1052,"e":2775},
{"t":-8,"a":598,"b":490,"c":705,"d":1048,"e":2745},
{"t":-7,"a":548,"b":540,"c":672,"d":1088,"e":2818},
{"t":-6,"a":515,"b":512,"c":718,"d":1130,"e":2860},
{"t":-5,"a":500,"b":528,"c":655,"d":1105,"e":2825},
{"t":-4,"a":532,"b":485,"c":700,"d":1050,"e":2752},
{"t":-3,"a":552,"b":520,"c":685,"d":1075,"e":2800},
{"t":-2,"a":525,"b":502,"c":712,"d":1070,"e":2768},
{"t":-1,"a":560,"b":530,"c":672,"d":1102,"e":2835},
{"t":0,"a":505,"b":548,"c":695,"d":1118,"e":2842},
{"t":1,"a":480,"b":555,"c":685,"d":1140,"e":2890},
{"t":2,"a":522,"b":505,"c":710,"d":1075,"e":2800},
{"t":3,"a":540,"b":478,"c":670,"d":1042,"e":2752},
{"t":4,"a":545,"b":475,"c":648,"d":1015,"e":2700},
{"t":5,"a":505,"b":512,"c":692,"d":1062,"e":2768},
{"t":6,"a":528,"b":535,"c":712,"d":1090,"e":2815},
{"t":7,"a":512,"b":520,"c":700,"d":1098,"e":2812},
{"t":8,"a":540,"b":545,"c":668,"d":1048,"e":2775},
{"t":9,"a":498,"b":500,"c":690,"d":1115,"e":2820},
{"t":10,"a":560,"b":498,"c":735,"d":1060,"e":2775},
{"t":11,"a":518,"b":480,"c":690,"d":1105,"e":2838},
{"t":12,"a":545,"b":525,"c":705,"d":1078,"e":2808},
{"t":13,"a":492,"b":540,"c":675,"d":1120,"e":2842},
{"t":14,"a":535,"b":515,"c":708,"d":1068,"e":2790},
{"t":15,"a":512,"b":490,"c":660,"d":1035,"e":2742},
{"t":16,"a":530,"b":468,"c":700,"d":1042,"e":2730},
{"t":17,"a":498,"b":505,"c":672,"d":1025,"e":2688},
{"t":18,"a":520,"b":530,"c":690,"d":1065,"e":2770},
{"t":19,"a":470,"b":512,"c":660,"d":990,"e":2650},
{"t":20,"a":512,"b":548,"c":695,"d":1060,"e":2745},
{"t":21,"a":488,"b":505,"c":708,"d":1030,"e":2712},
{"t":22,"a":442,"b":535,"c":712,"d":1088,"e":2725},
{"t":23,"a":480,"b":502,"c":688,"d":1012,"e":2660},
{"t":24,"a":525,"b":478,"c":675,"d":1000,"e":2668},
{"t":25,"a":505,"b":490,"c":680,"d":966,"e":2595},
{"t":26,"a":548,"b":522,"c":715,"d":1078,"e":2790},
{"t":27,"a":515,"b":545,"c":698,"d":1105,"e":2825},
{"t":28,"a":555,"b":525,"c":640,"d":1110,"e":2838},
{"t":29,"a":520,"b":495,"c":682,"d":1050,"e":2760},
{"t":30,"a":542,"b":512,"c":705,"d":1088,"e":2805},
{"t":31,"a":515,"b":478,"c":698,"d":1075,"e":2790},
{"t":32,"a":490,"b":520,"c":665,"d":1112,"e":2818},
{"t":33,"a":528,"b":540,"c":690,"d":1060,"e":2778},
{"t":34,"a":538,"b":548,"c":725,"d":1030,"e":2752},
{"t":35,"a":562,"b":505,"c":690,"d":1085,"e":2822},
{"t":36,"a":505,"b":482,"c":672,"d":1118,"e":2830},
{"t":37,"a":482,"b":505,"c":665,"d":1135,"e":2868},
{"t":38,"a":525,"b":540,"c":702,"d":1062,"e":2785},
{"t":39,"a":552,"b":515,"c":718,"d":1090,"e":2838},
{"t":40,"a":548,"b":470,"c":702,"d":1080,"e":2770},
{"t":41,"a":500,"b":512,"c":668,"d":1108,"e":2835},
{"t":42,"a":535,"b":535,"c":690,"d":1045,"e":2765},
{"t":43,"a":520,"b":532,"c":688,"d":1052,"e":2812},
{"t":44,"a":545,"b":495,"c":712,"d":1085,"e":2798},
{"t":45,"a":508,"b":520,"c":672,"d":1125,"e":2845},
{"t":46,"a":568,"b":500,"c":652,"d":1118,"e":2880},
{"t":47,"a":522,"b":528,"c":690,"d":1072,"e":2812},
{"t":48,"a":540,"b":490,"c":705,"d":1050,"e":2775},
{"t":49,"a":495,"b":545,"c":720,"d":1065,"e":2745},
{"t":50,"a":542,"b":505,"c":685,"d":1030,"e":2730},
{"t":51,"a":518,"b":528,"c":668,"d":1088,"e":2790},
{"t":52,"a":530,"b":482,"c":676,"d":1000,"e":2690},
{"t":53,"a":505,"b":530,"c":705,"d":1072,"e":2772},
{"t":54,"a":552,"b":505,"c":690,"d":1105,"e":2818},
{"t":55,"a":465,"b":518,"c":705,"d":1098,"e":2792},
{"t":56,"a":520,"b":490,"c":672,"d":1040,"e":2725},
{"t":57,"a":498,"b":540,"c":712,"d":1018,"e":2700},
{"t":58,"a":542,"b":552,"c":660,"d":968,"e":2640},
{"t":59,"a":498,"b":512,"c":702,"d":1082,"e":2795},
{"t":60,"a":525,"b":478,"c":685,"d":1115,"e":2822},
{"t":61,"a":512,"b":490,"c":738,"d":1108,"e":2850},
{"t":62,"a":552,"b":535,"c":690,"d":1070,"e":2812},
{"t":63,"a":535,"b":515,"c":665,"d":1048,"e":2770},
{"t":64,"a":575,"b":525,"c":690,"d":1062,"e":2788},
{"t":65,"a":525,"b":500,"c":665,"d":1112,"e":2835},
{"t":66,"a":548,"b":545,"c":708,"d":1085,"e":2830},
{"t":67,"a":498,"b":465,"c":645,"d":1130,"e":2822},
{"t":68,"a":540,"b":515,"c":698,"d":1068,"e":2780},
{"t":69,"a":515,"b":492,"c":722,"d":1095,"e":2808},
{"t":70,"a":528,"b":510,"c":712,"d":1045,"e":2735},
{"t":71,"a":505,"b":548,"c":675,"d":1090,"e":2805},
{"t":72,"a":542,"b":525,"c":690,"d":1062,"e":2788},
{"t":73,"a":470,"b":540,"c":682,"d":1088,"e":2798},
{"t":74,"a":512,"b":505,"c":712,"d":1050,"e":2752},
{"t":75,"a":490,"b":478,"c":668,"d":1035,"e":2718},
{"t":76,"a":448,"b":495,"c":725,"d":1020,"e":2712},
{"t":77,"a":498,"b":522,"c":690,"d":1062,"e":2770},
{"t":78,"a":532,"b":548,"c":705,"d":1095,"e":2830},
{"t":79,"a":535,"b":528,"c":668,"d":1115,"e":2862},
{"t":80,"a":560,"b":490,"c":700,"d":1090,"e":2835},
{"t":81,"a":520,"b":512,"c":680,"d":1052,"e":2775},
{"t":82,"a":505,"b":478,"c":700,"d":1072,"e":2770},
{"t":83,"a":540,"b":520,"c":672,"d":1035,"e":2752},
{"t":84,"a":518,"b":538,"c":715,"d":1108,"e":2838},
{"t":85,"a":560,"b":550,"c":735,"d":1148,"e":2905},
{"t":86,"a":515,"b":512,"c":690,"d":1100,"e":2845},
{"t":87,"a":545,"b":485,"c":702,"d":1070,"e":2800},
{"t":88,"a":490,"b":505,"c":672,"d":1055,"e":2748},
{"t":89,"a":528,"b":528,"c":708,"d":1078,"e":2800},
{"t":90,"a":505,"b":545,"c":685,"d":1122,"e":2842},
{"t":91,"a":545,"b":470,"c":695,"d":1092,"e":2808},
{"t":92,"a":500,"b":515,"c":660,"d":1058,"e":2768},
{"t":93,"a":532,"b":500,"c":720,"d":1040,"e":2762},
{"t":94,"a":518,"b":535,"c":650,"d":1032,"e":2730},
{"t":95,"a":552,"b":502,"c":698,"d":1092,"e":2820},
{"t":96,"a":525,"b":528,"c":675,"d":1068,"e":2788},
{"t":97,"a":578,"b":498,"c":718,"d":1122,"e":2885},
{"t":98,"a":525,"b":530,"c":682,"d":1065,"e":2805},
{"t":99,"a":498,"b":512,"c":705,"d":1098,"e":2808},
{"t":100,"a":508,"b":520,"c":685,"d":1068,"e":2795},
{"t":101,"a":548,"b":488,"c":712,"d":1110,"e":2840},
{"t":102,"a":562,"b":540,"c":690,"d":1082,"e":2842},
{"t":103,"a":535,"b":555,"c":742,"d":1098,"e":2858},
{"t":104,"a":512,"b":515,"c":700,"d":1062,"e":2790},
{"t":105,"a":540,"b":498,"c":722,"d":1125,"e":2855},
{"t":106,"a":482,"b":485,"c":690,"d":1040,"e":2742},
{"t":107,"a":530,"b":522,"c":720,"d":1085,"e":2808},
{"t":108,"a":515,"b":550,"c":700,"d":1060,"e":2790},
{"t":109,"a":552,"b":512,"c":762,"d":1128,"e":2880},
{"t":110,"a":505,"b":545,"c":705,"d":1070,"e":2815},
{"t":111,"a":545,"b":502,"c":688,"d":1102,"e":2828},
{"t":112,"a":520,"b":538,"c":678,"d":1075,"e":2812},
{"t":113,"a":548,"b":500,"c":715,"d":1105,"e":2845},
{"t":114,"a":525,"b":482,"c":735,"d":1048,"e":2795},
{"t":115,"a":490,"b":470,"c":705,"d":1012,"e":2725},
{"t":116,"a":525,"b":512,"c":690,"d":1068,"e":2792},
{"t":117,"a":552,"b":538,"c":712,"d":1090,"e":2848},
{"t":118,"a":565,"b":520,"c":756,"d":1110,"e":2868},
{"t":119,"a":532,"b":548,"c":712,"d":1080,"e":2840},
{"t":120,"a":505,"b":505,"c":695,"d":1128,"e":2842},
{"t":121,"a":512,"b":500,"c":690,"d":1062,"e":2790},
{"t":122,"a":555,"b":478,"c":725,"d":1098,"e":2842},
{"t":123,"a":530,"b":525,"c":702,"d":1058,"e":2808},
{"t":124,"a":540,"b":548,"c":735,"d":1145,"e":2912},
{"t":125,"a":512,"b":522,"c":700,"d":1085,"e":2835},
{"t":126,"a":548,"b":495,"c":685,"d":1112,"e":2848},
{"t":127,"a":475,"b":478,"c":668,"d":1088,"e":2760},
{"t":128,"a":520,"b":505,"c":712,"d":1052,"e":2772},
{"t":129,"a":502,"b":530,"c":695,"d":1075,"e":2795},
{"t":130,"a":548,"b":515,"c":700,"d":1035,"e":2745},
{"t":131,"a":570,"b":540,"c":672,"d":1098,"e":2842},
{"t":132,"a":535,"b":502,"c":718,"d":1070,"e":2815},
{"t":133,"a":520,"b":535,"c":682,"d":1100,"e":2832},
{"t":134,"a":498,"b":498,"c":705,"d":1062,"e":2780},
{"t":135,"a":545,"b":528,"c":690,"d":1130,"e":2858},
{"t":136,"a":578,"b":490,"c":722,"d":1068,"e":2805},
{"t":137,"a":542,"b":518,"c":688,"d":1118,"e":2858},
{"t":138,"a":520,"b":545,"c":710,"d":1085,"e":2842},
{"t":139,"a":505,"b":525,"c":660,"d":1125,"e":2858},
{"t":140,"a":548,"b":498,"c":700,"d":1072,"e":2812},
{"t":141,"a":572,"b":512,"c":725,"d":1048,"e":2808},
{"t":142,"a":598,"b":472,"c":708,"d":1055,"e":2790},
{"t":143,"a":552,"b":520,"c":672,"d":1102,"e":2848},
{"t":144,"a":518,"b":548,"c":695,"d":1082,"e":2815},
{"t":145,"a":530,"b":540,"c":685,"d":1092,"e":2842},
{"t":146,"a":502,"b":512,"c":712,"d":1050,"e":2762},
{"t":147,"a":545,"b":488,"c":700,"d":1115,"e":2840},
{"t":148,"a":495,"b":505,"c":730,"d":1018,"e":2718},
{"t":149,"a":538,"b":478,"c":690,"d":1088,"e":2800},
{"t":150,"a":512,"b":525,"c":668,"d":1062,"e":2770},
{"t":151,"a":555,"b":528,"c":670,"d":1110,"e":2875},
{"t":152,"a":520,"b":552,"c":705,"d":1070,"e":2825},
{"t":153,"a":540,"b":505,"c":725,"d":1095,"e":2848},
{"t":154,"a":512,"b":478,"c":702,"d":1070,"e":2780},
{"t":155,"a":548,"b":508,"c":668,"d":1115,"e":2852},
{"t":156,"a":575,"b":535,"c":690,"d":1078,"e":2862},
{"t":157,"a":540,"b":552,"c":648,"d":1142,"e":2890},
{"t":158,"a":505,"b":520,"c":688,"d":1062,"e":2782},
{"t":159,"a":528,"b":495,"c":710,"d":1035,"e":2762},
{"t":160,"a":470,"b":495,"c":690,"d":1040,"e":2738},
{"t":161,"a":518,"b":470,"c":712,"d":1080,"e":2775},
{"t":162,"a":498,"b":512,"c":680,"d":1012,"e":2708},
{"t":163,"a":535,"b":522,"c":722,"d":975,"e":2660},
{"t":164,"a":552,"b":505,"c":682,"d":1058,"e":2772},
{"t":165,"a":522,"b":540,"c":700,"d":1092,"e":2818},
{"t":166,"a":508,"b":488,"c":675,"d":1102,"e":2812},
{"t":167,"a":530,"b":528,"c":708,"d":1125,"e":2850},
{"t":168,"a":550,"b":505,"c":690,"d":1060,"e":2800},
{"t":169,"a":565,"b":545,"c":705,"d":1072,"e":2845},
{"t":170,"a":520,"b":498,"c":672,"d":1040,"e":2752},
{"t":171,"a":495,"b":520,"c":715,"d":1085,"e":2778},
{"t":172,"a":442,"b":510,"c":650,"d":1050,"e":2702},
{"t":173,"a":498,"b":540,"c":695,"d":1088,"e":2790},
{"t":174,"a":515,"b":482,"c":672,"d":1022,"e":2715},
{"t":175,"a":530,"b":472,"c":718,"d":1120,"e":2830},
{"t":176,"a":552,"b":512,"c":690,"d":1062,"e":2808},
{"t":177,"a":528,"b":548,"c":705,"d":1098,"e":2845},
{"t":178,"a":590,"b":530,"c":688,"d":1085,"e":2878},
{"t":179,"a":540,"b":505,"c":715,"d":1112,"e":2842},
{"t":180,"a":568,"b":518,"c":672,"d":1070,"e":2822},
{"t":181,"a":498,"b":505,"c":700,"d":1030,"e":2752},
{"t":182,"a":525,"b":482,"c":672,"d":1072,"e":2775},
{"t":183,"a":505,"b":535,"c":725,"d":1105,"e":2818},
{"t":184,"a":545,"b":548,"c":660,"d":1098,"e":2820},
{"t":185,"a":570,"b":518,"c":705,"d":1135,"e":2868},
{"t":186,"a":535,"b":492,"c":690,"d":1052,"e":2790},
{"t":187,"a":515,"b":480,"c":730,"d":1062,"e":2788},
{"t":188,"a":498,"b":512,"c":688,"d":1045,"e":2752},
{"t":189,"a":540,"b":545,"c":668,"d":1090,"e":2810},
{"t":190,"a":478,"b":520,"c":692,"d":1130,"e":2845},
{"t":191,"a":522,"b":548,"c":665,"d":1090,"e":2822},
{"t":192,"a":550,"b":505,"c":712,"d":1068,"e":2815},
{"t":193,"a":555,"b":498,"c":715,"d":1078,"e":2868},
{"t":194,"a":528,"b":472,"c":690,"d":1112,"e":2818},
{"t":195,"a":505,"b":528,"c":672,"d":1048,"e":2762},
{"t":196,"a":525,"b":535,"c":668,"d":1015,"e":2722},
{"t":197,"a":550,"b":510,"c":705,"d":1068,"e":2790},
{"t":198,"a":530,"b":552,"c":690,"d":1120,"e":2850},
{"t":199,"a":568,"b":470,"c":700,"d":1105,"e":2842},
{"t":200,"a":522,"b":495,"c":682,"d":1140,"e":2835},
{"t":201,"a":545,"b":520,"c":720,"d":1075,"e":2830},
{"t":202,"a":500,"b":425,"c":678,"d":1065,"e":2748},
{"t":203,"a":482,"b":502,"c":710,"d":1040,"e":2755},
{"t":204,"a":520,"b":488,"c":690,"d":1098,"e":2798},
{"t":205,"a":540,"b":515,"c":742,"d":1138,"e":2880},
{"t":206,"a":512,"b":538,"c":698,"d":1082,"e":2830},
{"t":207,"a":555,"b":512,"c":675,"d":1060,"e":2812},
{"t":208,"a":488,"b":545,"c":685,"d":1048,"e":2770},
{"t":209,"a":535,"b":512,"c":665,"d":1100,"e":2822},
{"t":210,"a":518,"b":478,"c":705,"d":1128,"e":2835},
{"t":211,"a":532,"b":495,"c":708,"d":1092,"e":2825},
{"t":212,"a":500,"b":530,"c":690,"d":1052,"e":2778},
{"t":213,"a":545,"b":548,"c":722,"d":1085,"e":2848},
{"t":214,"a":575,"b":528,"c":655,"d":1070,"e":2860},
{"t":215,"a":540,"b":500,"c":702,"d":1118,"e":2842},
{"t":216,"a":512,"b":520,"c":685,"d":1045,"e":2765},
{"t":217,"a":510,"b":478,"c":720,"d":1120,"e":2812},
{"t":218,"a":548,"b":515,"c":672,"d":1065,"e":2790},
{"t":219,"a":532,"b":540,"c":698,"d":1098,"e":2835},
{"t":220,"a":545,"b":552,"c":690,"d":1035,"e":2745},
{"t":221,"a":520,"b":525,"c":715,"d":1090,"e":2812},
{"t":222,"a":498,"b":490,"c":670,"d":1068,"e":2760},
{"t":223,"a":470,"b":505,"c":645,"d":1098,"e":2772},
{"t":224,"a":512,"b":480,"c":690,"d":1125,"e":2835},
{"t":225,"a":540,"b":528,"c":712,"d":1080,"e":2822},
{"t":226,"a":528,"b":482,"c":702,"d":1160,"e":2890},
{"t":227,"a":555,"b":518,"c":665,"d":1092,"e":2848},
{"t":228,"a":520,"b":545,"c":695,"d":1125,"e":2862},
{"t":229,"a":560,"b":535,"c":725,"d":1078,"e":2838},
{"t":230,"a":525,"b":548,"c":690,"d":1115,"e":2872},
{"t":231,"a":548,"b":502,"c":710,"d":1055,"e":2805},
{"t":232,"a":505,"b":498,"c":672,"d":1040,"e":2740},
{"t":233,"a":540,"b":512,"c":712,"d":1080,"e":2800},
{"t":234,"a":565,"b":535,"c":688,"d":1135,"e":2878},
{"t":235,"a":538,"b":520,"c":700,"d":1112,"e":2855},
{"t":236,"a":508,"b":538,"c":665,"d":1150,"e":2890},
{"t":237,"a":530,"b":485,"c":705,"d":1098,"e":2835},
{"t":238,"a":480,"b":475,"c":738,"d":1185,"e":2912},
{"t":239,"a":525,"b":505,"c":700,"d":1118,"e":2852},
{"t":240,"a":555,"b":528,"c":682,"d":1072,"e":2842},
{"t":241,"a":552,"b":548,"c":685,"d":1090,"e":2830},
{"t":242,"a":575,"b":520,"c":712,"d":1140,"e":2895},
{"t":243,"a":525,"b":505,"c":695,"d":1165,"e":2902},
{"t":244,"a":520,"b":505,"c":660,"d":1205,"e":2945},
{"t":245,"a":548,"b":482,"c":698,"d":1125,"e":2880},
{"t":246,"a":505,"b":540,"c":715,"d":1088,"e":2842},
{"t":247,"a":585,"b":530,"c":712,"d":1102,"e":2875},
{"t":248,"a":540,"b":548,"c":680,"d":1068,"e":2825},
{"t":249,"a":562,"b":512,"c":700,"d":1118,"e":2870},
{"t":250,"a":498,"b":470,"c":690,"d":1055,"e":2762},
{"t":251,"a":528,"b":515,"c":715,"d":1130,"e":2862},
{"t":252,"a":545,"b":545,"c":672,"d":1095,"e":2858},
{"t":253,"a":535,"b":525,"c":652,"d":1192,"e":2930},
{"t":254,"a":562,"b":505,"c":692,"d":1110,"e":2878},
{"t":255,"a":518,"b":528,"c":718,"d":1075,"e":2835},
{"t":256,"a":512,"b":545,"c":705,"d":1080,"e":2812},
{"t":257,"a":490,"b":512,"c":672,"d":1125,"e":2845},
{"t":258,"a":548,"b":488,"c":700,"d":1160,"e":2888},
{"t":259,"a":565,"b":492,"c":680,"d":1150,"e":2892},
{"t":260,"a":532,"b":530,"c":712,"d":1088,"e":2832},
{"t":261,"a":510,"b":552,"c":690,"d":1120,"e":2868},
{"t":262,"a":490,"b":518,"c":728,"d":1068,"e":2788},
{"t":263,"a":520,"b":495,"c":690,"d":1138,"e":2865},
{"t":264,"a":555,"b":525,"c":705,"d":1098,"e":2852},
{"t":265,"a":542,"b":540,"c":672,"d":1112,"e":2850},
{"t":266,"a":568,"b":512,"c":708,"d":1062,"e":2808},
{"t":267,"a":525,"b":478,"c":685,"d":1085,"e":2790},
{"t":268,"a":518,"b":440,"c":700,"d":1035,"e":2700},
{"t":269,"a":498,"b":505,"c":672,"d":1092,"e":2778},
{"t":270,"a":540,"b":532,"c":712,"d":1060,"e":2810},
{"t":271,"a":578,"b":528,"c":745,"d":1125,"e":2885},
{"t":272,"a":545,"b":548,"c":702,"d":1152,"e":2912},
{"t":273,"a":520,"b":510,"c":680,"d":1108,"e":2848},
{"t":274,"a":505,"b":500,"c":690,"d":1085,"e":2828},
{"t":275,"a":528,"b":478,"c":715,"d":1118,"e":2842},
{"t":276,"a":560,"b":540,"c":695,"d":1072,"e":2838},
{"t":277,"a":548,"b":552,"c":662,"d":1160,"e":2910},
{"t":278,"a":570,"b":518,"c":700,"d":1092,"e":2868},
{"t":279,"a":532,"b":500,"c":722,"d":1130,"e":2855},
{"t":280,"a":475,"b":482,"c":715,"d":1062,"e":2772},
{"t":281,"a":512,"b":530,"c":685,"d":1130,"e":2838},
{"t":282,"a":545,"b":515,"c":702,"d":1058,"e":2780},
{"t":283,"a":535,"b":520,"c":682,"d":1102,"e":2790},
{"t":284,"a":555,"b":548,"c":712,"d":1145,"e":2905},
{"t":285,"a":520,"b":492,"c":672,"d":1090,"e":2828},
{"t":286,"a":560,"b":498,"c":705,"d":1178,"e":2965},
{"t":287,"a":528,"b":522,"c":672,"d":1110,"e":2812},
{"t":288,"a":552,"b":545,"c":700,"d":1075,"e":2845},
{"t":289,"a":510,"b":545,"c":655,"d":1080,"e":2750},
{"t":290,"a":548,"b":505,"c":698,"d":1125,"e":2862},
{"t":291,"a":575,"b":528,"c":718,"d":1048,"e":2822},
{"t":292,"a":545,"b":515,"c":720,"d":1045,"e":2740},
{"t":293,"a":518,"b":540,"c":688,"d":1098,"e":2830},
{"t":294,"a":540,"b":498,"c":665,"d":1122,"e":2812},
{"t":295,"a":492,"b":478,"c":690,"d":1130,"e":2878},
{"t":296,"a":538,"b":512,"c":718,"d":1078,"e":2768},
{"t":297,"a":562,"b":550,"c":695,"d":1105,"e":2865},
{"t":298,"a":530,"b":530,"c":742,"d":1095,"e":2835},
{"t":299,"a":565,"b":552,"c":700,"d":1128,"e":2902},
{"t":300,"a":520,"b":505,"c":688,"d":1065,"e":2795},
{"t":301,"a":575,"b":505,"c":675,"d":1150,"e":2790},
{"t":302,"a":540,"b":482,"c":705,"d":1042,"e":2852},
{"t":303,"a":555,"b":530,"c":720,"d":1098,"e":2830},
{"t":304,"a":515,"b":555,"c":708,"d":1072,"e":2728},
{"t":305,"a":552,"b":528,"c":672,"d":1135,"e":2890},
{"t":306,"a":528,"b":495,"c":698,"d":1060,"e":2805},
{"t":307,"a":552,"b":488,"c":660,"d":1118,"e":2812},
{"t":308,"a":525,"b":515,"c":702,"d":1030,"e":2762},
{"t":309,"a":570,"b":542,"c":685,"d":1110,"e":2868},
{"t":310,"a":498,"b":522,"c":725,"d":1188,"e":2922},
{"t":311,"a":545,"b":550,"c":690,"d":1120,"e":2835},
{"t":312,"a":518,"b":512,"c":712,"d":1075,"e":2812},
{"t":313,"a":598,"b":545,"c":690,"d":1085,"e":2790},
{"t":314,"a":560,"b":505,"c":668,"d":1145,"e":2905},
{"t":315,"a":585,"b":528,"c":705,"d":1098,"e":2842},
{"t":316,"a":535,"b":495,"c":712,"d":1140,"e":2758},
{"t":317,"a":512,"b":532,"c":685,"d":1040,"e":2848},
{"t":318,"a":548,"b":555,"c":700,"d":1128,"e":2880},
{"t":319,"a":570,"b":528,"c":668,"d":1070,"e":2942},
{"t":320,"a":542,"b":498,"c":705,"d":1128,"e":2800},
{"t":321,"a":525,"b":522,"c":725,"d":1085,"e":2838},
{"t":322,"a":505,"b":560,"c":705,"d":1115,"e":2870},
{"t":323,"a":538,"b":530,"c":672,"d":1160,"e":2745},
{"t":324,"a":562,"b":500,"c":690,"d":1062,"e":2862},
{"t":325,"a":548,"b":512,"c":735,"d":1198,"e":2930},
{"t":326,"a":575,"b":545,"c":700,"d":1122,"e":2822},
{"t":327,"a":530,"b":520,"c":712,"d":1088,"e":2805},
{"t":328,"a":598,"b":478,"c":685,"d":1102,"e":2888},
{"t":329,"a":552,"b":520,"c":718,"d":1025,"e":2772},
{"t":330,"a":580,"b":548,"c":695,"d":1135,"e":2872},
{"t":331,"a":522,"b":535,"c":650,"d":1160,"e":2912},
{"t":332,"a":548,"b":555,"c":690,"d":1128,"e":2800},
{"t":333,"a":565,"b":512,"c":722,"d":1082,"e":2848},
{"t":334,"a":560,"b":508,"c":718,"d":1075,"e":2855},
{"t":335,"a":530,"b":532,"c":672,"d":1050,"e":2738},
{"t":336,"a":548,"b":565,"c":700,"d":1112,"e":2880},
{"t":337,"a":590,"b":548,"c":692,"d":1205,"e":2958},
{"t":338,"a":555,"b":512,"c":712,"d":1145,"e":2840},
{"t":339,"a":532,"b":530,"c":682,"d":1095,"e":2815},
{"t":340,"a":512,"b":520,"c":728,"d":1120,"e":2880},
{"t":341,"a":545,"b":495,"c":690,"d":1018,"e":2760},
{"t":342,"a":570,"b":540,"c":705,"d":1150,"e":2902},
{"t":343,"a":548,"b":565,"c":668,"d":1090,"e":2935},
{"t":344,"a":580,"b":530,"c":705,"d":1160,"e":2818},
{"t":345,"a":535,"b":505,"c":718,"d":1072,"e":2838},
{"t":346,"a":578,"b":498,"c":705,"d":1148,"e":2902},
{"t":347,"a":535,"b":548,"c":672,"d":1110,"e":2790},
{"t":348,"a":560,"b":570,"c":692,"d":1125,"e":2865},
{"t":349,"a":525,"b":530,"c":690,"d":1085,"e":2948},
{"t":350,"a":558,"b":505,"c":725,"d":1140,"e":2830},
{"t":351,"a":585,"b":535,"c":700,"d":1095,"e":2878},
{"t":352,"a":565,"b":575,"c":735,"d":1168,"e":2920},
{"t":353,"a":530,"b":530,"c":690,"d":1045,"e":2762},
{"t":354,"a":552,"b":512,"c":715,"d":1118,"e":2842},
{"t":355,"a":540,"b":512,"c":672,"d":1100,"e":2862},
{"t":356,"a":572,"b":545,"c":712,"d":1150,"e":2910},
{"t":357,"a":528,"b":528,"c":690,"d":1078,"e":2805},
{"t":358,"a":492,"b":585,"c":700,"d":1135,"e":2905},
{"t":359,"a":540,"b":528,"c":668,"d":1030,"e":2862},
{"t":360,"a":562,"b":505,"c":705,"d":1102,"e":2830},
{"t":361,"a":555,"b":528,"c":648,"d":1070,"e":2728},
{"t":362,"a":585,"b":498,"c":700,"d":1125,"e":2888},
{"t":363,"a":545,"b":548,"c":722,"d":1160,"e":2915},
{"t":364,"a":520,"b":495,"c":718,"d":1178,"e":2935},
{"t":365,"a":548,"b":532,"c":682,"d":1052,"e":2800},
{"t":366,"a":575,"b":515,"c":700,"d":1112,"e":2858},
{"t":367,"a":572,"b":545,"c":688,"d":1110,"e":2878},
{"t":368,"a":528,"b":570,"c":722,"d":1168,"e":2918},
{"t":369,"a":552,"b":528,"c":680,"d":1085,"e":2842},
{"t":370,"a":505,"b":515,"c":592,"d":1142,"e":2742},
{"t":371,"a":545,"b":498,"c":690,"d":1028,"e":2855},
{"t":372,"a":568,"b":542,"c":712,"d":1120,"e":2872},
{"t":373,"a":548,"b":470,"c":705,"d":1088,"e":2790},
{"t":374,"a":570,"b":525,"c":672,"d":1132,"e":2890},
{"t":375,"a":532,"b":555,"c":700,"d":1095,"e":2835},
{"t":376,"a":530,"b":540,"c":672,"d":1125,"e":2822},
{"t":377,"a":510,"b":508,"c":712,"d":1040,"e":2760},
{"t":378,"a":555,"b":530,"c":690,"d":1108,"e":2862},
{"t":379,"a":585,"b":505,"c":728,"d":1160,"e":2925},
{"t":380,"a":548,"b":542,"c":695,"d":1118,"e":2832},
{"t":381,"a":575,"b":512,"c":715,"d":1072,"e":2848},
{"t":382,"a":510,"b":555,"c":685,"d":1080,"e":2772},
{"t":383,"a":538,"b":515,"c":720,"d":1145,"e":2905},
{"t":384,"a":562,"b":540,"c":688,"d":1100,"e":2850},
{"t":385,"a":545,"b":488,"c":712,"d":1135,"e":2840},
{"t":386,"a":578,"b":528,"c":678,"d":1022,"e":2748},
{"t":387,"a":530,"b":565,"c":705,"d":1118,"e":2878},
{"t":388,"a":568,"b":530,"c":660,"d":1098,"e":2860},
{"t":389,"a":525,"b":552,"c":702,"d":1138,"e":2902},
{"t":390,"a":552,"b":512,"c":722,"d":1075,"e":2828},
{"t":391,"a":498,"b":560,"c":700,"d":1150,"e":2795},
{"t":392,"a":552,"b":520,"c":672,"d":1048,"e":2862},
{"t":393,"a":575,"b":545,"c":698,"d":1122,"e":2885},
{"t":394,"a":540,"b":512,"c":722,"d":1090,"e":2770},
{"t":395,"a":568,"b":545,"c":690,"d":1135,"e":2892},
{"t":396,"a":530,"b":528,"c":712,"d":1102,"e":2838},
{"t":397,"a":522,"b":548,"c":680,"d":1120,"e":2812},
{"t":398,"a":548,"b":510,"c":705,"d":1035,"e":2858},
{"t":399,"a":565,"b":538,"c":690,"d":1085,"e":2842},
{"t":400,"a":442,"b":505,"c":690,"d":1085,"e":2760}
]},
"vconcat":[
{"width":603,"height":90,
 "layer":[
  {"data":{"name":"lc"},"mark":{"type":"line","color":"#ff0000","strokeWidth":1,"clip":true},
   "encoding":{
    "x":{"field":"t","type":"quantitative","scale":{"domain":[-522,418],"nice":false,"zero":false},"axis":{"orient":"bottom","values":[-500,-400,-300,-200,-100,0,100,200,300,400],"labels":false,"title":null,"tickSize":-7}},
    "y":{"field":"a","type":"quantitative","scale":{"domain":[439,598],"nice":false,"zero":false},"axis":{"orient":"left","format":"d","values":[440,450,460,470,480,490,500,510,520,530,540,550,560,570,580,590],"labelExpr":"datum.value % 50 === 0 ? datum.label : ''","labelPadding":17,"title":null,"tickSize":{"condition":{"test":"datum.value % 50 === 0","value":-7},"value":-3.5}}}}},
  {"data":{"values":[{"n":"TH0"}]},"mark":{"type":"text","align":"right","baseline":"top","dx":-4,"dy":3,"fontSize":15,"font":"Liberation Sans","color":"#000"},
   "encoding":{
    "x":{"datum":418,"type":"quantitative","scale":{"domain":[-522,418],"nice":false,"zero":false},"axis":{"orient":"top","values":[-500,-400,-300,-200,-100,0,100,200,300,400],"labels":false,"title":null,"tickSize":-7}},
    "y":{"datum":598,"type":"quantitative","scale":{"domain":[439,598],"nice":false,"zero":false},"axis":{"orient":"right","values":[440,450,460,470,480,490,500,510,520,530,540,550,560,570,580,590],"labels":false,"title":null,"tickSize":{"condition":{"test":"datum.value % 50 === 0","value":-7},"value":-3.5}}},
    "text":{"field":"n"}}}
 ],
 "resolve":{"axis":{"x":"independent","y":"independent"}}},
{"width":603,"height":90,
 "layer":[
  {"data":{"name":"lc"},"mark":{"type":"line","color":"#00ff00","strokeWidth":1,"clip":true},
   "encoding":{
    "x":{"field":"t","type":"quantitative","scale":{"domain":[-522,418],"nice":false,"zero":false},"axis":{"orient":"bottom","values":[-500,-400,-300,-200,-100,0,100,200,300,400],"labels":false,"title":null,"tickSize":-7}},
    "y":{"field":"b","type":"quantitative","scale":{"domain":[421,585],"nice":false,"zero":false},"axis":{"orient":"left","format":"d","values":[430,440,450,460,470,480,490,500,510,520,530,540,550,560,570,580],"labelExpr":"datum.value % 50 === 0 ? datum.label : ''","labelPadding":17,"title":null,"tickSize":{"condition":{"test":"datum.value % 50 === 0","value":-7},"value":-3.5}}}}},
  {"data":{"values":[{"n":"TH1"}]},"mark":{"type":"text","align":"right","baseline":"top","dx":-4,"dy":3,"fontSize":15,"font":"Liberation Sans","color":"#000"},
   "encoding":{
    "x":{"datum":418,"type":"quantitative","scale":{"domain":[-522,418],"nice":false,"zero":false},"axis":{"orient":"top","values":[-500,-400,-300,-200,-100,0,100,200,300,400],"labels":false,"title":null,"tickSize":-7}},
    "y":{"datum":585,"type":"quantitative","scale":{"domain":[421,585],"nice":false,"zero":false},"axis":{"orient":"right","values":[430,440,450,460,470,480,490,500,510,520,530,540,550,560,570,580],"labels":false,"title":null,"tickSize":{"condition":{"test":"datum.value % 50 === 0","value":-7},"value":-3.5}}},
    "text":{"field":"n"}}}
 ],
 "resolve":{"axis":{"x":"independent","y":"independent"}}},
{"width":603,"height":90,
 "layer":[
  {"data":{"name":"lc"},"mark":{"type":"line","color":"#0000ff","strokeWidth":1,"clip":true},
   "encoding":{
    "x":{"field":"t","type":"quantitative","scale":{"domain":[-522,418],"nice":false,"zero":false},"axis":{"orient":"bottom","values":[-500,-400,-300,-200,-100,0,100,200,300,400],"labels":false,"title":null,"tickSize":-7}},
    "y":{"field":"c","type":"quantitative","scale":{"domain":[564,766],"nice":false,"zero":false},"axis":{"orient":"left","format":"d","values":[570,580,590,600,610,620,630,640,650,660,670,680,690,700,710,720,730,740,750,760],"labelExpr":"datum.value % 50 === 0 ? datum.label : ''","labelPadding":17,"title":"Counts/sec","titleX":-58,"titleY":45,"titleAngle":270,"titleAlign":"center","titleBaseline":"bottom","tickSize":{"condition":{"test":"datum.value % 50 === 0","value":-7},"value":-3.5}}}}},
  {"data":{"values":[{"n":"TH2"}]},"mark":{"type":"text","align":"right","baseline":"top","dx":-4,"dy":3,"fontSize":15,"font":"Liberation Sans","color":"#000"},
   "encoding":{
    "x":{"datum":418,"type":"quantitative","scale":{"domain":[-522,418],"nice":false,"zero":false},"axis":{"orient":"top","values":[-500,-400,-300,-200,-100,0,100,200,300,400],"labels":false,"title":null,"tickSize":-7}},
    "y":{"datum":766,"type":"quantitative","scale":{"domain":[564,766],"nice":false,"zero":false},"axis":{"orient":"right","values":[570,580,590,600,610,620,630,640,650,660,670,680,690,700,710,720,730,740,750,760],"labels":false,"title":null,"tickSize":{"condition":{"test":"datum.value % 50 === 0","value":-7},"value":-3.5}}},
    "text":{"field":"n"}}}
 ],
 "resolve":{"axis":{"x":"independent","y":"independent"}}},
{"width":603,"height":90,
 "layer":[
  {"data":{"name":"lc"},"mark":{"type":"line","color":"#00ffff","strokeWidth":1,"clip":true},
   "encoding":{
    "x":{"field":"t","type":"quantitative","scale":{"domain":[-522,418],"nice":false,"zero":false},"axis":{"orient":"bottom","values":[-500,-400,-300,-200,-100,0,100,200,300,400],"labels":false,"title":null,"tickSize":-7}},
    "y":{"field":"d","type":"quantitative","scale":{"domain":[964,1205],"nice":false,"zero":false},"axis":{"orient":"left","format":"d","values":[970,980,990,1000,1010,1020,1030,1040,1050,1060,1070,1080,1090,1100,1110,1120,1130,1140,1150,1160,1170,1180,1190,1200],"labelExpr":"datum.value % 50 === 0 ? datum.label : ''","labelPadding":17,"title":null,"tickSize":{"condition":{"test":"datum.value % 50 === 0","value":-7},"value":-3.5}}}}},
  {"data":{"values":[{"n":"TH3"}]},"mark":{"type":"text","align":"right","baseline":"top","dx":-4,"dy":3,"fontSize":15,"font":"Liberation Sans","color":"#000"},
   "encoding":{
    "x":{"datum":418,"type":"quantitative","scale":{"domain":[-522,418],"nice":false,"zero":false},"axis":{"orient":"top","values":[-500,-400,-300,-200,-100,0,100,200,300,400],"labels":false,"title":null,"tickSize":-7}},
    "y":{"datum":1205,"type":"quantitative","scale":{"domain":[964,1205],"nice":false,"zero":false},"axis":{"orient":"right","values":[970,980,990,1000,1010,1020,1030,1040,1050,1060,1070,1080,1090,1100,1110,1120,1130,1140,1150,1160,1170,1180,1190,1200],"labels":false,"title":null,"tickSize":{"condition":{"test":"datum.value % 50 === 0","value":-7},"value":-3.5}}},
    "text":{"field":"n"}}}
 ],
 "resolve":{"axis":{"x":"independent","y":"independent"}}},
{"width":603,"height":90,
 "layer":[
  {"data":{"name":"lc"},"mark":{"type":"line","color":"#ff00ff","strokeWidth":1,"clip":true},
   "encoding":{
    "x":{"field":"t","type":"quantitative","scale":{"domain":[-522,418],"nice":false,"zero":false},"axis":{"orient":"bottom","values":[-500,-400,-300,-200,-100,0,100,200,300,400],"labelExpr":"datum.value % 200 === 0 ? datum.label : ''","labelPadding":12,"title":"Time [sec] 0 = 2010/06/19 21:41:01","titlePadding":2,"tickSize":-7}},
    "y":{"field":"e","type":"quantitative","scale":{"domain":[2592,2970],"nice":false,"zero":false},"axis":{"orient":"left","format":"d","values":[2600,2620,2640,2660,2680,2700,2720,2740,2760,2780,2800,2820,2840,2860,2880,2900,2920,2940,2960],"labelExpr":"datum.value % 100 === 0 ? datum.label : ''","labelPadding":17,"title":null,"tickSize":{"condition":{"test":"datum.value % 100 === 0","value":-7},"value":-3.5}}}}},
  {"data":{"values":[{"n":"TH0123"}]},"mark":{"type":"text","align":"right","baseline":"top","dx":-1,"dy":3,"fontSize":15,"font":"Liberation Sans","color":"#000"},
   "encoding":{
    "x":{"datum":418,"type":"quantitative","scale":{"domain":[-522,418],"nice":false,"zero":false},"axis":{"orient":"top","values":[-500,-400,-300,-200,-100,0,100,200,300,400],"labels":false,"title":null,"tickSize":-7}},
    "y":{"datum":2970,"type":"quantitative","scale":{"domain":[2592,2970],"nice":false,"zero":false},"axis":{"orient":"right","values":[2600,2620,2640,2660,2680,2700,2720,2740,2760,2780,2800,2820,2840,2860,2880,2900,2920,2940,2960],"labels":false,"title":null,"tickSize":{"condition":{"test":"datum.value % 100 === 0","value":-7},"value":-3.5}}},
    "text":{"field":"n"}}}
 ],
 "resolve":{"axis":{"x":"independent","y":"independent"}}}
]
}
